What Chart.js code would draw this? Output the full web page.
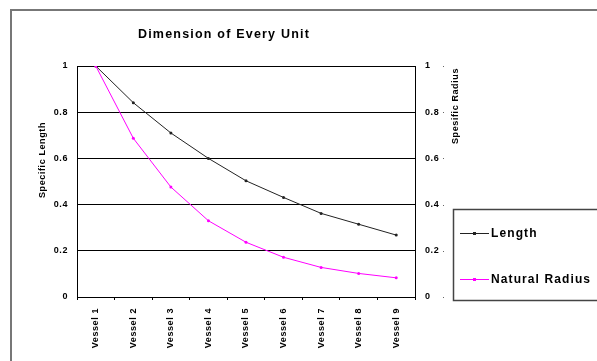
<!DOCTYPE html>
<html>
<head>
<meta charset="utf-8">
<script src="https://cdn.jsdelivr.net/npm/chart.js@4.4.1/dist/chart.umd.min.js"></script>
<style>
  html, body { margin: 0; padding: 0; background: #fff; }
  #wrap { width: 597px; height: 361px; position: relative; }
</style>
</head>
<body>
<div id="wrap"><canvas id="c" width="597" height="361"></canvas></div>
<script>
// Vessel categories and normalised dimensions
const categories = ['Vessel 1', 'Vessel 2', 'Vessel 3', 'Vessel 4', 'Vessel 5',
                    'Vessel 6', 'Vessel 7', 'Vessel 8', 'Vessel 9'];
const lengthValues = [1.0, 0.841, 0.71, 0.6, 0.503, 0.431, 0.362, 0.315, 0.268];
const radiusValues = [1.0, 0.687, 0.476, 0.33, 0.237, 0.172, 0.128, 0.102, 0.083];
const tickValues = [0, 0.2, 0.4, 0.6, 0.8, 1];
const tickLabels = ['0', '0.2', '0.4', '0.6', '0.8', '1'];

const chartTitle = 'Dimension of Every Unit';
const leftTitle = 'Specific Length';
const rightTitle = 'Spesific Radius';
const seriesNames = ['Length', 'Natural Radius'];
const seriesColors = ['#222222', '#ff00ff'];

const FONT = "'Liberation Sans', Arial, sans-serif";

function tickText(v) {
  const i = tickValues.findIndex(t => Math.abs(t - v) < 1e-9);
  return i >= 0 ? tickLabels[i] : '';
}

const decor = {
  id: 'decor',
  beforeDraw(chart) {
    chart.ctx.letterSpacing = '0.6px';
  },
  afterDraw(chart) {
    const ctx = chart.ctx;
    ctx.save();

    // outer frame
    ctx.strokeStyle = '#777';
    ctx.lineWidth = 2;
    ctx.strokeRect(11, 10, 700, 400);

    // title
    ctx.fillStyle = '#000';
    ctx.letterSpacing = '1.2px';
    ctx.font = 'bold 12.5px ' + FONT;
    ctx.textAlign = 'center';
    ctx.textBaseline = 'middle';
    ctx.fillText(chartTitle, 224, 35);

    // axis titles
    ctx.letterSpacing = '0.6px';
    ctx.font = 'bold 9px ' + FONT;
    ctx.save();
    ctx.translate(43, 160);
    ctx.rotate(-Math.PI / 2);
    ctx.fillText(leftTitle, 0, 0);
    ctx.restore();
    ctx.save();
    ctx.translate(456, 106);
    ctx.rotate(-Math.PI / 2);
    ctx.fillText(rightTitle, 0, 0);
    ctx.restore();

    // small tick dots on the right axis
    const y2 = chart.scales.y2;
    ctx.fillStyle = '#666';
    tickValues.forEach(v => {
      const py = Math.round(y2.getPixelForValue(v));
      ctx.fillRect(443, py, 1, 1);
    });

    // legend
    ctx.strokeStyle = '#444';
    ctx.lineWidth = 1.5;
    ctx.strokeRect(453.5, 209.5, 160, 91);
    const rows = [233, 279];
    ctx.font = 'bold 12px ' + FONT;
    ctx.letterSpacing = '1.1px';
    ctx.textAlign = 'left';
    rows.forEach((ry, i) => {
      ctx.strokeStyle = seriesColors[i];
      ctx.lineWidth = 1;
      ctx.beginPath();
      ctx.moveTo(460, ry + 0.5);
      ctx.lineTo(489, ry + 0.5);
      ctx.stroke();
      ctx.fillStyle = seriesColors[i];
      ctx.fillRect(473, ry - 1, 3, 3);
      ctx.fillStyle = '#000';
      ctx.fillText(seriesNames[i], 491, ry + 1);
    });
    ctx.restore();
  }
};

new Chart(document.getElementById('c'), {
  type: 'line',
  data: {
    labels: categories,
    datasets: [
      {
        label: seriesNames[0],
        data: lengthValues,
        borderColor: seriesColors[0],
        backgroundColor: seriesColors[0],
        borderWidth: 1,
        pointRadius: 1.5,
        pointBorderWidth: 0,
        pointBackgroundColor: seriesColors[0],
        tension: 0,
        yAxisID: 'y',
        order: 1
      },
      {
        label: seriesNames[1],
        data: radiusValues,
        borderColor: seriesColors[1],
        backgroundColor: seriesColors[1],
        borderWidth: 1,
        pointRadius: 1.5,
        pointBorderWidth: 0,
        pointBackgroundColor: seriesColors[1],
        tension: 0,
        yAxisID: 'y',
        order: 0
      }
    ]
  },
  options: {
    responsive: false,
    animation: false,
    devicePixelRatio: 1,
    layout: { padding: { top: 66, right: 136, left: 0, bottom: 0 } },
    plugins: {
      legend: { display: false },
      title: { display: false },
      tooltip: { enabled: false }
    },
    scales: {
      x: {
        type: 'category',
        offset: true,
        afterFit(scale) { scale.height = 64; },
        border: { display: true, color: '#000', width: 1 },
        grid: { display: true, drawOnChartArea: false, drawTicks: true, tickLength: 3, offset: true, color: '#000' },
        ticks: {
          minRotation: 90, maxRotation: 90, autoSkip: false, padding: 8,
          color: '#000', font: { family: FONT, size: 9, weight: 'bold' }
        }
      },
      y: {
        position: 'left',
        min: 0, max: 1,
        afterFit(scale) { scale.width = 77; },
        afterBuildTicks(scale) { scale.ticks = tickValues.map(v => ({ value: v })); },
        border: { display: true, color: '#000', width: 1 },
        grid: { color: '#000', lineWidth: 1, drawTicks: false },
        ticks: {
          padding: 9, color: '#000', callback: v => tickText(v),
          font: { family: FONT, size: 9, weight: 'bold' }
        }
      },
      y2: {
        position: 'right',
        min: 0, max: 1,
        afterFit(scale) { scale.width = 46; },
        afterBuildTicks(scale) { scale.ticks = tickValues.map(v => ({ value: v })); },
        border: { display: true, color: '#000', width: 1 },
        grid: { drawOnChartArea: false, drawTicks: false },
        ticks: {
          padding: 10, color: '#000', callback: v => tickText(v),
          font: { family: FONT, size: 9, weight: 'bold' }
        }
      }
    }
  },
  plugins: [decor]
});
</script>
</body>
</html>
